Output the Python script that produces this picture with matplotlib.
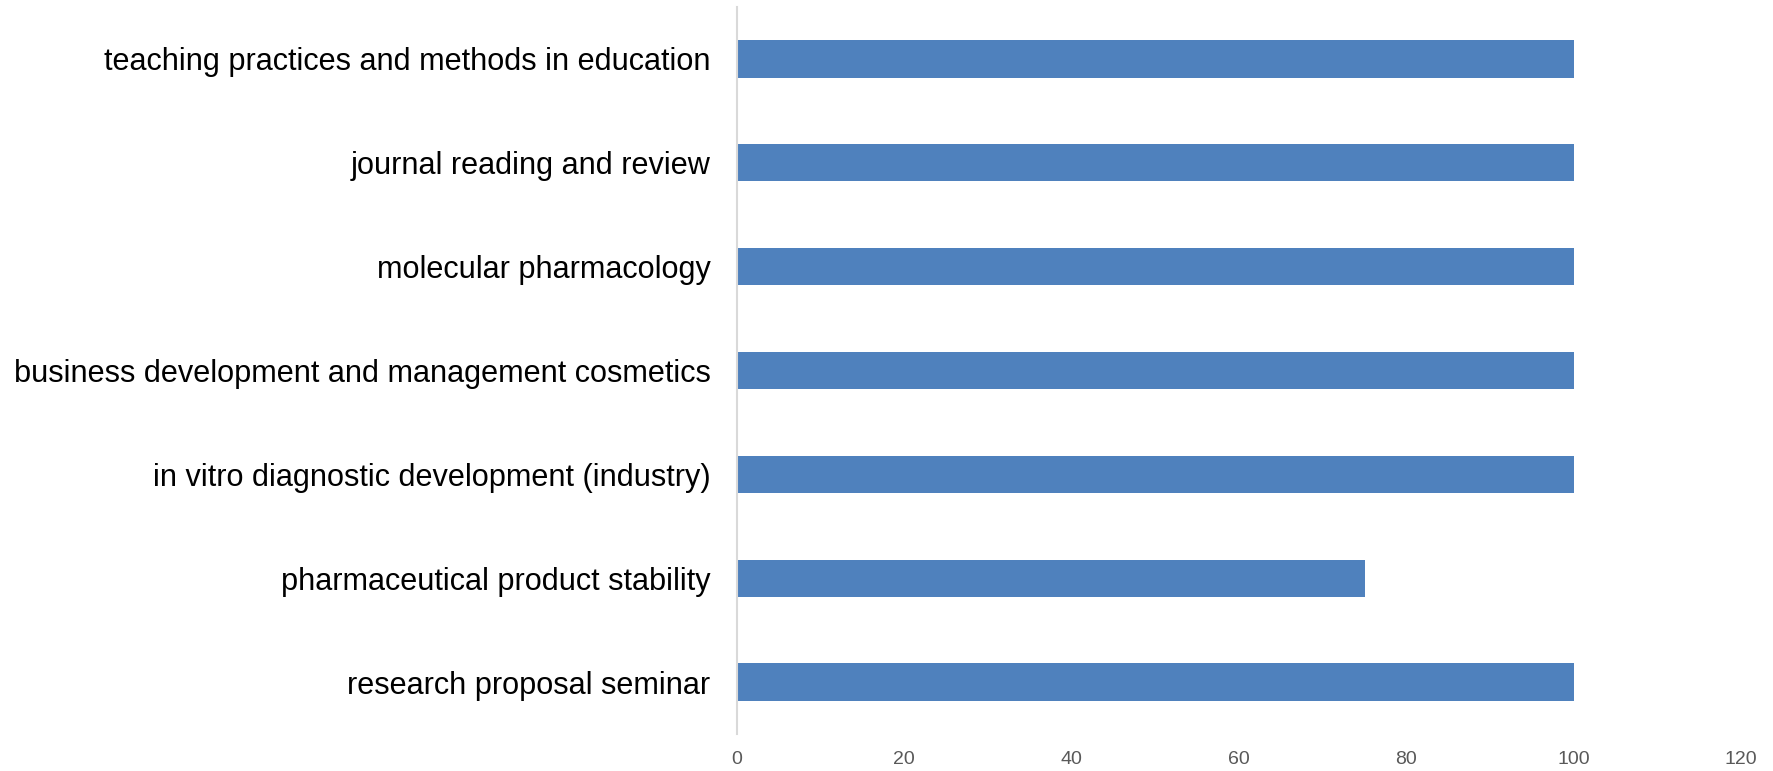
import matplotlib
matplotlib.use("Agg")
import matplotlib.pyplot as plt

categories = [
    "research proposal seminar",
    "pharmaceutical product stability",
    "in vitro diagnostic development (industry)",
    "business development and management cosmetics",
    "molecular pharmacology",
    "journal reading and review",
    "teaching practices and methods in education",
]
values = [100, 75, 100, 100, 100, 100, 100]
xticks = [0, 20, 40, 60, 80, 100, 120]

plt.rcParams['font.family'] = ['Liberation Sans', 'DejaVu Sans']

fig = plt.figure(figsize=(17.73, 7.71), dpi=100)
ax = fig.add_axes([737/1773, 1-734/771, (1741-737)/1773, (734-7)/771])

ax.barh(range(len(categories)), values, height=0.36, color='#4f81bd')
ax.set_xlim(0, 120)
ax.set_ylim(-0.5, len(categories)-0.5)
ax.set_yticks(range(len(categories)))
ax.set_yticklabels(categories, fontsize=22.1, color='black')
ax.set_xticks(xticks)
ax.set_xticklabels([str(t) for t in xticks], fontsize=14, color='#595959')
ax.tick_params(axis='y', length=0, pad=19)
ax.tick_params(axis='x', length=0, pad=12.5)
for s in ['top', 'right', 'bottom']:
    ax.spines[s].set_visible(False)
ax.spines['left'].set_color('#d9d9d9')
ax.spines['left'].set_linewidth(1.5)

fig.savefig('out.png', dpi=100)
